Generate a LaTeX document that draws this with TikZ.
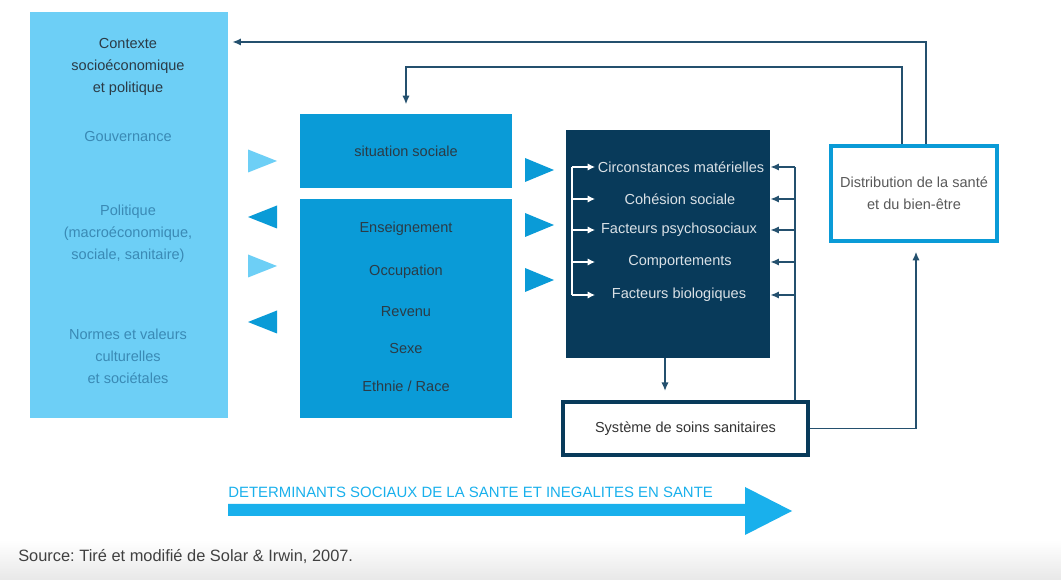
\documentclass[tikz,border=0pt]{standalone}
\usepackage{fontspec}
\setmainfont{Liberation Sans}
\usetikzlibrary{arrows.meta}

\definecolor{ctxblue}{HTML}{6DCFF6}
\definecolor{midblue}{HTML}{0A9BD7}
\definecolor{navy}{HTML}{083A5A}
\definecolor{linecol}{HTML}{24506E}
\definecolor{bandblue}{HTML}{19B0EC}
\definecolor{softtxt}{HTML}{3A8AB5}
\definecolor{darktxt}{HTML}{2B3B46}

\tikzset{
  txt/.style={font=\fontsize{10.9}{16.5}\selectfont, align=center, inner sep=0pt},
  fb/.style={draw=linecol, line width=1.3pt, -{Latex[length=6.5pt,width=5.5pt]}},
  wharrow/.style={draw=white, line width=1pt, -{Latex[length=5.5pt,width=5.5pt]}}
}

\begin{document}
\begin{tikzpicture}[x=0.75pt, y=-0.75pt]
    \useasboundingbox (0,0) rectangle (1061,580);
    \fill[white] (0,0) rectangle (1061,580);
    \shade[top color=white, bottom color=black!9] (0,540) rectangle (1061,580);

    % boxes
    \node[fill=ctxblue, minimum width=148.5pt, minimum height=304.5pt] (ctx) at (129,215) {};
    \node[fill=midblue, minimum width=159pt, minimum height=55.5pt] (sit) at (406,151) {};
    \node[fill=midblue, minimum width=159pt, minimum height=164.25pt] (strat) at (406,308.5) {};
    \node[fill=navy, minimum width=153pt, minimum height=171pt] (inter) at (668,244) {};
    \node[draw=navy, line width=2.4pt, fill=white, minimum width=183.75pt, minimum height=39.75pt, txt, text=black!80] (soins) at (685.5,428.5) {Système de soins sanitaires};
    \node[draw=midblue, line width=3.2pt, fill=white, minimum width=124.5pt, minimum height=71.25pt, txt, text=black!65] (dist) at (914,193.5) {Distribution de la santé\\et du bien-être};

    % contexte
    \node[txt, text=darktxt] (ctxtitle) at (128,67) {Contexte\\socioéconomique\\et politique};
    \node[txt, text=softtxt] (gouv) at (128,137) {Gouvernance};
    \node[txt, text=softtxt] (polit) at (128,234) {Politique\\(macroéconomique,\\sociale, sanitaire)};
    \node[txt, text=softtxt] (normes) at (128,356) {Normes et valeurs\\culturelles\\et sociétales};

    % position sociale
    \node[txt, text=darktxt] (sitlbl) at (406,151) {situation sociale};
    \node[txt, text=darktxt] (ens) at (406,229) {Enseignement};
    \node[txt, text=darktxt] (occ) at (406,272) {Occupation};
    \node[txt, text=darktxt] (rev) at (406,312) {Revenu};
    \node[txt, text=darktxt] (sexe) at (406,349) {Sexe};
    \node[txt, text=darktxt] (ethn) at (406,386) {Ethnie / Race};

    % facteurs intermediaires
    \node[txt, text=white!85!navy] (f1) at (681,167) {Circonstances matérielles};
    \node[txt, text=white!85!navy] (f2) at (680,199) {Cohésion sociale};
    \node[txt, text=white!85!navy] (f3) at (679,230) {Facteurs psychosociaux};
    \node[txt, text=white!85!navy] (f4) at (680,262) {Comportements};
    \node[txt, text=white!85!navy] (f5) at (679,295) {Facteurs biologiques};

    \coordinate (brk) at (572,167);
    \coordinate (tips) at (595,167);
    \coordinate (rail) at (795,167);
    \draw[white, line width=1pt] (brk) -- (brk |- f5);
    \foreach \f in {f1,f2,f3,f4,f5}
        \draw[wharrow] (brk |- \f) -- (tips |- \f);
    \draw[linecol, line width=1.3pt] (soins.north -| rail) -- (rail);
    \foreach \f in {f1,f2,f3,f4,f5}
        \draw[fb] (rail |- \f) -- (inter.east |- \f);

    % triangles
    \foreach \y in {161,266}
        \fill[ctxblue] (248,\y-11.5) -- (277,\y) -- (248,\y+11.5) -- cycle;
    \foreach \y in {217,322}
        \fill[midblue] (277,\y-11.5) -- (248,\y) -- (277,\y+11.5) -- cycle;
    \foreach \y in {170,225,280}
        \fill[midblue] (525,\y-12) -- (554,\y) -- (525,\y+12) -- cycle;

    % connectors
    \coordinate (topA) at (926,42);
    \coordinate (topB) at (902,67);
    \draw[fb] (inter.south -| 665,0) -- ([yshift=7pt]soins.north -| 665,0);
    \draw[fb, shorten >=8pt] (soins.east) -| (916,241);
    \draw[fb, shorten >=3pt] (topA |- dist.north) |- (ctx.east |- topA);
    \draw[fb, shorten >=7pt] (topB |- dist.north) |- (406,67) -- (sit.north);

    % bandeau
    \fill[bandblue] (228,504) -- (745,504) -- (745,487) -- (792,511) -- (745,535) -- (745,516) -- (228,516) -- cycle;
    \node[txt, anchor=west, text=bandblue, font=\fontsize{11.2}{13}\selectfont] (band) at (228,492) {DETERMINANTS SOCIAUX DE LA SANTE ET INEGALITES EN SANTE};
    \node[txt, anchor=west, text=black!75, font=\fontsize{12.3}{14}\selectfont] (src) at (18,557) {Source:\ Tiré et modifié de Solar \& Irwin, 2007.};
\end{tikzpicture}
\end{document}
